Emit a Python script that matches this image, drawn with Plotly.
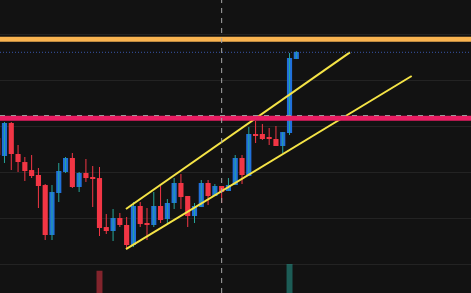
import plotly.graph_objects as go

# ---- data ----
candle_idx = list(range(45))
opens  = [117.39,113.48,120.65,113.91,112.17,110.43,109.35,107.17,96.30,105.43,
          110.00,113.04,106.74,109.78,108.91,108.69,98.04,97.17,100.00,98.48,
          94.13,102.61,98.91,98.48,102.61,99.78,103.26,107.61,104.78,100.43,
          102.39,107.61,104.78,106.96,105.87,107.17,113.04,109.13,118.26,118.26,
          117.61,117.17,115.65,118.48,134.56]
highs  = [118.04,120.87,120.87,115.87,113.26,113.69,110.87,107.39,107.17,111.96,
          113.26,114.13,110.00,112.83,111.30,111.09,100.87,101.96,101.09,100.22,
          103.48,103.48,102.17,105.65,106.96,104.13,108.69,109.56,104.78,103.26,
          108.26,108.26,107.39,106.96,108.69,113.69,113.69,119.78,121.09,120.43,
          119.56,120.00,118.69,135.87,136.30]
lows   = [112.61,111.96,110.43,110.00,108.04,108.69,102.17,95.22,95.22,103.48,
          109.78,106.52,105.65,107.83,102.39,96.09,96.52,95.00,98.04,93.26,
          93.69,98.04,95.22,98.04,98.91,98.48,101.96,101.96,98.04,98.91,
          102.39,102.83,104.78,103.26,105.87,107.17,107.39,109.13,116.30,116.96,
          115.87,115.65,114.13,118.04,134.56]
closes = [113.69,120.65,113.91,112.17,110.22,109.13,106.96,96.30,105.65,110.22,
          113.04,106.74,109.78,108.69,108.48,97.83,97.17,100.00,98.48,94.13,
          102.61,98.69,98.69,102.61,99.56,103.26,107.61,104.56,100.43,102.61,
          107.61,104.78,106.96,105.65,107.17,113.04,109.35,118.26,117.83,117.17,
          117.17,115.65,118.69,134.78,136.09]

volume_idx = [15, 43]
volume_vals = [76, 99]
volume_up = [False, True]

level_orange = 138.85
level_last = 136.02
level_pink = 121.67
level_dash = 122.28
marker_idx = 33

upper_line_x = [18.9, 51.9]
upper_line_y = [101.96, 136.02]
lower_line_x = [18.9, 61.0]
lower_line_y = [93.26, 130.87]

# ---- style ----
BG = "#121212"
RED = "#f23645"
BLUE = "#2070db"
TEAL = "#26a69a"
YELLOW = "#f5e446"

fig = go.Figure()

up = [c >= o for o, c in zip(opens, closes)]

# wicks
for is_up, col in [(True, TEAL), (False, RED)]:
    wx, wy = [], []
    for i, o, h, l, c, u in zip(candle_idx, opens, highs, lows, closes, up):
        if u == is_up:
            wx += [i, i, None]
            wy += [l, h, None]
    fig.add_trace(go.Scatter(x=wx, y=wy, mode="lines",
                             line=dict(color=col, width=1), hoverinfo="skip"))

# bodies
for is_up, col in [(True, BLUE), (False, RED)]:
    bx, by, bb = [], [], []
    for i, o, c, u in zip(candle_idx, opens, closes, up):
        if u == is_up:
            bx.append(i)
            lo, hi = min(o, c), max(o, c)
            by.append(max(hi - lo, 0.22))
            bb.append(lo)
    fig.add_trace(go.Bar(x=bx, y=by, base=bb, width=0.76,
                         marker=dict(color=col, line=dict(width=0)),
                         hoverinfo="skip"))

# volume
fig.add_trace(go.Bar(x=volume_idx, y=volume_vals, width=0.88, yaxis="y2",
                     marker=dict(color=["rgba(38,166,154,0.5)" if u else "rgba(242,54,69,0.5)"
                                        for u in volume_up], line=dict(width=0)),
                     hoverinfo="skip"))

# trend lines
fig.add_trace(go.Scatter(x=upper_line_x, y=upper_line_y, mode="lines",
                         line=dict(color=YELLOW, width=2), hoverinfo="skip"))
fig.add_trace(go.Scatter(x=lower_line_x, y=lower_line_y, mode="lines",
                         line=dict(color=YELLOW, width=2), hoverinfo="skip"))

# horizontal levels
fig.add_shape(type="line", xref="paper", x0=0, x1=1, yref="y", y0=level_orange, y1=level_orange,
              line=dict(color="#fab450", width=5), layer="above")
fig.add_shape(type="line", xref="paper", x0=0, x1=1, yref="y", y0=level_last, y1=level_last,
              line=dict(color="rgba(70,110,220,0.75)", width=1, dash="1px,2px"), layer="above")
fig.add_shape(type="line", xref="paper", x0=0, x1=1, yref="y", y0=level_pink, y1=level_pink,
              line=dict(color="#e91e63", width=5), layer="above")
fig.add_shape(type="line", xref="paper", x0=0, x1=1, yref="y", y0=level_dash, y1=level_dash,
              line=dict(color="#9a9a9a", width=1, dash="5px,6px"), layer="above")
# vertical marker
fig.add_shape(type="line", xref="x", x0=marker_idx, x1=marker_idx, yref="paper", y0=0, y1=1,
              line=dict(color="#a8a8a8", width=1, dash="5px,5px"), layer="above")

fig.update_layout(
    width=471, height=293,
    margin=dict(l=0, r=0, t=0, b=0),
    paper_bgcolor=BG, plot_bgcolor=BG,
    showlegend=False, barmode="overlay", hovermode=False,
    xaxis=dict(range=[0.34, 69.74], showgrid=False, zeroline=False,
               showticklabels=False, ticks="", showline=False),
    yaxis=dict(range=[83.70, 147.39], tick0=0, dtick=10, showgrid=True,
               gridcolor="#232323", gridwidth=1, zeroline=False,
               showticklabels=False, ticks="", showline=False),
    yaxis2=dict(range=[0, 1000], overlaying="y", visible=False, showgrid=False),
)

fig.write_html("out.html")
